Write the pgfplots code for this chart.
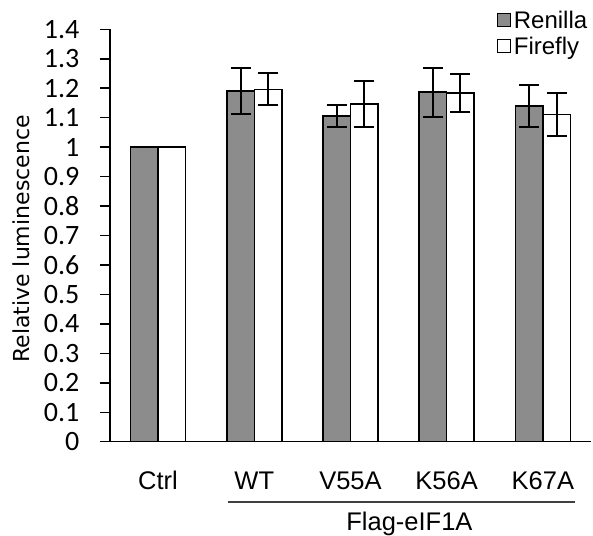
\documentclass[border=0pt]{standalone}
\usepackage{fontspec}
\setmainfont{Liberation Sans}
\newfontfamily\carlito{Carlito}
\newfontfamily\dejavu{DejaVu Sans}
\usepackage{pgfplots}
\pgfplotsset{compat=1.18}
\definecolor{barg}{RGB}{140,140,140}
\begin{document}
\begin{tikzpicture}
\begin{axis}[name=ax,
 scale only axis, width=481pt, height=412.4pt,
 xmin=-0.5, xmax=4.5, ymin=0, ymax=1.4,
 axis x line=bottom, axis y line=left, axis line style={-, line width=1.5pt},
 ybar=0pt, bar width=27.5pt,
 xtick={0,1,2,3,4}, xticklabels={Ctrl,WT,V55A,K56A,K67A}, xtick style={draw=none},
 xticklabel style={font=\fontsize{25.5}{25.5}\selectfont, anchor=base, yshift=-38pt},
 ytick={0,0.1,0.2,0.3,0.4,0.5,0.6,0.7,0.8,0.9,1,1.1,1.2,1.3,1.4},
 yticklabel style={font=\carlito\fontsize{28}{28}\selectfont, xshift=-17pt},
 /pgf/number format/assume math mode=true,
 ytick style={line width=1.5pt, black}, tick align=outside, major tick length=10pt,
 clip=false,
 legend style={at={(rel axis cs:0.804,1.05)}, anchor=north west, draw=none, fill=none,
   font=\fontsize{24}{24}\selectfont, row sep=3pt, inner sep=0pt,
   /tikz/every odd column/.append style={column sep=1pt}},
 legend cell align=left,
 legend image code/.code={\draw[#1, line width=1pt] (0pt,-6.5pt) rectangle (13pt,6.5pt);},
]
\addplot[fill=barg, draw=black, line width=1.5pt, bar shift=-13.75pt] coordinates {(0,1) (1,1.190) (2,1.106) (3,1.187) (4,1.140)};
\addlegendentry{Renilla}
\addplot[fill=white, draw=black, line width=1.5pt, bar shift=13.75pt] coordinates {(0,1) (1,1.196) (2,1.146) (3,1.184) (4,1.111)};
\addlegendentry{Firefly}
\addplot[draw=none, fill=none, bar shift=-13.75pt, forget plot,
  error bars/.cd, y dir=both, y explicit,
  error bar style={line width=2pt, black},
  error mark options={line width=2pt, black, mark size=10pt, rotate=90}]
  coordinates {(1,1.190) +- (0,0.079) (2,1.106) +- (0,0.036) (3,1.187) +- (0,0.083) (4,1.140) +- (0,0.072)};
\addplot[draw=none, fill=none, bar shift=13.75pt, forget plot,
  error bars/.cd, y dir=both, y explicit,
  error bar style={line width=2pt, black},
  error mark options={line width=2pt, black, mark size=10pt, rotate=90}]
  coordinates {(1,1.196) +- (0,0.054) (2,1.146) +- (0,0.077) (3,1.184) +- (0,0.064) (4,1.111) +- (0,0.072)};
\draw[line width=2pt, black!75] (axis cs:0.725,-0.206) -- (axis cs:4.335,-0.206);
\node[anchor=base, font=\fontsize{25.5}{25.5}\selectfont] at (axis cs:2.613,-0.302) {Flag-eIF1A};
\node[rotate=90, font=\dejavu\fontsize{22}{22}\selectfont] at (axis cs:-1.425,0.688) {Relative luminescence};
\coordinate (bl) at (axis cs:-1.643,-0.320);
\coordinate (tr) at (axis cs:4.521,1.4995);
\end{axis}
\pgfresetboundingbox
\path[use as bounding box] (bl) rectangle (tr);
\end{tikzpicture}
\end{document}
